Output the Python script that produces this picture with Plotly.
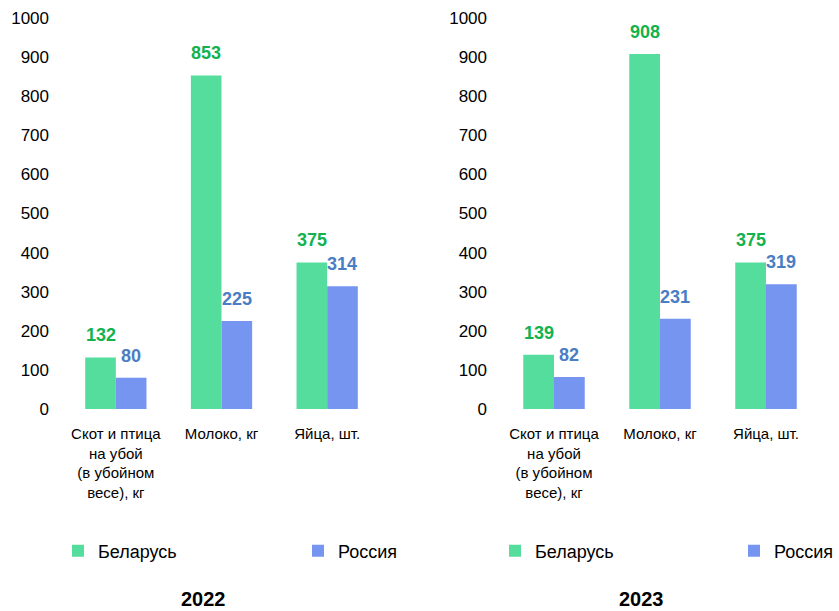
import plotly.graph_objects as go

categories = ["Скот и птица<br>на убой<br>(в убойном<br>весе), кг", "Молоко, кг", "Яйца, шт."]
years = ["2022", "2023"]
belarus = {"2022": [132, 853, 375], "2023": [139, 908, 375]}
russia = {"2022": [80, 225, 314], "2023": [82, 231, 319]}
series_names = ["Беларусь", "Россия"]
y_ticks = [0, 100, 200, 300, 400, 500, 600, 700, 800, 900, 1000]

bar_colors = ["#55DD9D", "#7595F0"]
text_colors = ["#12B24F", "#4A7DC4"]
FONT = "Liberation Sans, Arial, sans-serif"
W, H = 839, 611

fig = go.Figure()

x_domains = [[63 / W, 380 / W], [501 / W, 819 / W]]
y_domain = [(H - 409) / H, (H - 18) / H]
bargap = 0.42
half = (1 - bargap) / 4

# legend item start positions in px (symbol at +20, text at +40)
legend_x = [[58, 298], [495, None]]
legend_y = (H - 551) / H

annotations = []
legends = {}
for k, yr in enumerate(years):
    xa = "x" if k == 0 else "x2"
    ya = "y" if k == 0 else "y2"
    for s, (name, vals) in enumerate(zip(series_names, [belarus[yr], russia[yr]])):
        idx = k * 2 + s + 1
        lg = "legend" if idx == 1 else f"legend{idx}"
        fig.add_trace(go.Bar(
            x=categories, y=vals, name=name,
            marker=dict(color=bar_colors[s], line=dict(width=0)),
            xaxis=xa, yaxis=ya, legend=lg, showlegend=True,
            hoverinfo="skip",
        ))
        lx = legend_x[k][s]
        if lx is None:
            pos = dict(x=1.0, xanchor="right")
        else:
            pos = dict(x=lx / W, xanchor="left")
        legends[lg] = dict(
            orientation="h", y=legend_y, yanchor="middle", visible=True,
            font=dict(family=FONT, size=18, color="#000000"),
            bgcolor="rgba(0,0,0,0)", borderwidth=0, **pos,
        )
        for i, v in enumerate(vals):
            annotations.append(dict(
                x=i + (-half if s == 0 else half), y=v, xref=xa, yref=ya,
                text=f"<b>{v}</b>", showarrow=False, xanchor="center", yanchor="middle", yshift=22,
                font=dict(family=FONT, size=18, color=text_colors[s]),
            ))
    annotations.append(dict(
        x=[203 / W, 641 / W][k], y=(H - 599) / H, xref="paper", yref="paper",
        text=f"<b>{yr}</b>", showarrow=False, xanchor="center", yanchor="middle",
        font=dict(family=FONT, size=20, color="#000000"),
    ))

axis_x = dict(type="category", showgrid=False, showline=False, zeroline=False, ticks="",
              tickfont=dict(family=FONT, size=15, color="#000000"), ticklabelstandoff=14,
              tickangle=0, automargin=False, fixedrange=True)
axis_y = dict(range=[0, 1000], tickvals=y_ticks, showgrid=False, showline=False, zeroline=False,
              ticks="", tickfont=dict(family=FONT, size=17, color="#000000"), ticklabelstandoff=13,
              domain=y_domain, automargin=False, fixedrange=True)

fig.update_layout(
    template="none",
    width=W, height=H, autosize=False,
    margin=dict(l=0, r=0, t=0, b=0, pad=0),
    paper_bgcolor="white", plot_bgcolor="white",
    showlegend=True,
    barmode="group", bargap=bargap, bargroupgap=0,
    font=dict(family=FONT, color="#000000"),
    xaxis=dict(axis_x, domain=x_domains[0], anchor="y"),
    yaxis=dict(axis_y, anchor="x"),
    xaxis2=dict(axis_x, domain=x_domains[1], anchor="y2"),
    yaxis2=dict(axis_y, anchor="x2"),
    annotations=annotations,
    **legends,
)

fig.write_html("out.html", config={"displayModeBar": False},
               post_script="document.body.style.margin='0';document.body.style.overflow='hidden';")
